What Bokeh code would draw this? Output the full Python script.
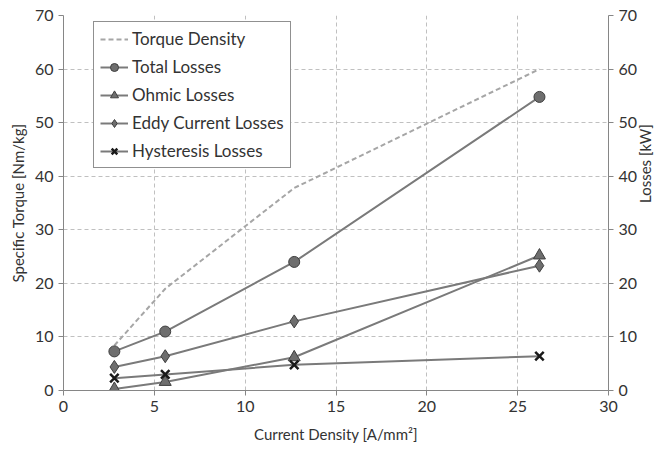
from bokeh.plotting import figure
from bokeh.models import Range1d, LinearAxis, Legend, LegendItem, FixedTicker
from bokeh.embed import file_html
from bokeh.resources import INLINE

current_density = [2.8, 5.6, 12.7, 26.2]
torque_density = [8.4, 19.0, 37.8, 60.0]
total_losses = [7.3, 11.0, 24.0, 54.8]
ohmic_losses = [0.3, 1.6, 6.2, 25.2]
eddy_losses = [4.4, 6.4, 12.9, 23.3]
hysteresis_losses = [2.3, 3.0, 4.8, 6.4]

FONT = "Lato"
TXT = "#333333"
LINE = "#7a7a7a"
MFILL = "#6e6e6e"
MLINE = "#3f3f3f"

p = figure(width=666, height=454, output_backend="svg", toolbar_location=None,
           x_range=Range1d(0, 30), y_range=Range1d(0, 70),
           min_border_left=63, min_border_right=56, min_border_top=15, min_border_bottom=64)
p.outline_line_color = None
p.background_fill_color = "white"
p.extra_y_ranges = {"loss": Range1d(0, 70)}

for g in (p.xgrid[0], p.ygrid[0]):
    g.grid_line_color = "#c0c0c0"
    g.grid_line_dash = "4 3"
    g.grid_line_width = 1
p.xgrid[0].ticker = FixedTicker(ticks=[0, 5, 10, 15, 20, 25, 30])
p.ygrid[0].ticker = FixedTicker(ticks=list(range(0, 80, 10)))

right = LinearAxis(y_range_name="loss", axis_label="Losses [kW]")
p.add_layout(right, "right")

p.xaxis.axis_label = "Current Density [A/mm²]"
p.yaxis[0].axis_label = "Specific Torque [Nm/kg]"

for ax in [p.xaxis[0], p.yaxis[0], right]:
    ax.axis_line_color = "#868686"
    ax.major_tick_line_color = "#868686"
    ax.major_tick_out = 5
    ax.major_tick_in = 0
    ax.minor_tick_line_color = None
    ax.major_label_text_font = FONT
    ax.major_label_text_font_size = "16px"
    ax.major_label_text_color = TXT
    ax.axis_label_text_font = FONT
    ax.axis_label_text_font_size = "15px"
    ax.axis_label_text_font_style = "normal"
    ax.axis_label_text_color = TXT
p.xaxis[0].ticker = FixedTicker(ticks=[0, 5, 10, 15, 20, 25, 30])
p.xaxis[0].axis_label_standoff = 10
p.yaxis[0].ticker = FixedTicker(ticks=list(range(0, 80, 10)))
right.ticker = FixedTicker(ticks=list(range(0, 80, 10)))
right.axis_label_orientation = -1.5708 + 3.14159
right.major_label_standoff = 5
right.axis_label_standoff = 5

items = []
r0 = p.line(current_density, torque_density, line_color="#a6a6a6", line_width=2, line_dash="5 3")
items.append(LegendItem(label="Torque Density", renderers=[r0]))

def series(y, marker, size, label):
    rl = p.line(current_density, y, y_range_name="loss", line_color=LINE, line_width=2)
    rm = p.scatter(current_density, y, y_range_name="loss", marker=marker, size=size,
                   fill_color=MFILL, line_color=MLINE, line_width=1)
    items.append(LegendItem(label=label, renderers=[rl, rm]))

series(total_losses, "circle", 11, "Total Losses")
series(ohmic_losses, "triangle", 12, "Ohmic Losses")
series(eddy_losses, "diamond", 13, "Eddy Current Losses")
rl = p.line(current_density, hysteresis_losses, y_range_name="loss", line_color=LINE, line_width=2)
rm = p.scatter(current_density, hysteresis_losses, y_range_name="loss", marker="x", size=12,
               line_color="#1a1a1a", line_width=2.5)
items.append(LegendItem(label="Hysteresis Losses", renderers=[rl, rm]))

legend = Legend(items=items, location=(30, 222))
legend.border_line_color = "#222222"
legend.border_line_width = 1
legend.background_fill_color = "white"
legend.background_fill_alpha = 1
legend.label_text_font = FONT
legend.label_text_font_size = "17px"
legend.label_text_color = TXT
legend.glyph_width = 28
legend.glyph_height = 20
legend.spacing = 7
legend.label_standoff = 4
legend.padding = 6
legend.margin = 0
p.add_layout(legend, "center")

open("out.html", "w").write(file_html(p, INLINE))
